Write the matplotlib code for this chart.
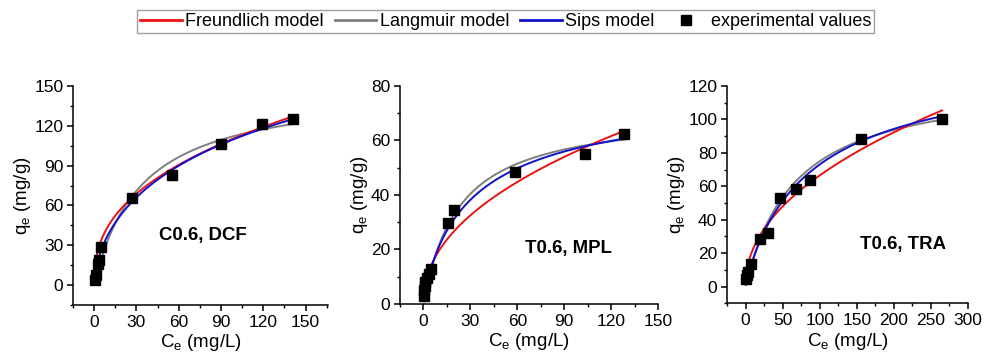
import numpy as np
import matplotlib
matplotlib.use("Agg")
import matplotlib.pyplot as plt
from matplotlib.lines import Line2D
from matplotlib.ticker import MultipleLocator

plt.rcParams['font.family'] = ['Liberation Sans', 'DejaVu Sans']
plt.rcParams['mathtext.fontset'] = 'custom'
plt.rcParams['mathtext.rm'] = 'Liberation Sans'
plt.rcParams['mathtext.it'] = 'Liberation Sans:italic'

# ---- experimental data ----
dcf_ce = [0.5, 1.5, 2.5, 3.5, 4.5, 27.2, 55.4, 90.0, 119.0, 141.0]
dcf_qe = [4.0, 7.5, 16.0, 19.0, 29.0, 65.4, 82.6, 106.6, 121.0, 124.8]

mpl_ce = [0.3, 0.5, 0.8, 1.2, 2.0, 3.5, 5.0, 16.0, 19.8, 58.6, 103.6, 128.5]
mpl_qe = [3.0, 5.0, 6.5, 8.0, 9.5, 11.0, 13.0, 29.8, 34.5, 48.3, 55.0, 62.5]

tra_ce = [0.5, 2.0, 3.0, 7.0, 20.0, 30.0, 46.5, 67.5, 87.5, 156.0, 265.0]
tra_qe = [4.5, 7.0, 9.0, 13.5, 28.3, 32.0, 53.0, 58.3, 63.8, 88.0, 100.3]

# ---- model parameters (Freundlich K, 1/n ; Langmuir qm, K ; Sips qm, K, ns) ----
dcf_freundlich = (17.9, 0.396)
dcf_langmuir = (150.0, 0.030)
dcf_sips = (300.0, 0.00405, 0.60)

mpl_freundlich = (6.78, 0.461)
mpl_langmuir = (71.0, 0.044)
mpl_sips = (80.0, 0.030, 0.85)

tra_freundlich = (7.57, 0.472)
tra_langmuir = (125.0, 0.015)
tra_sips = (140.0, 0.011, 0.92)

labels = ["C0.6, DCF", "T0.6, MPL", "T0.6, TRA"]


def freundlich(c, p):
    return p[0] * c ** p[1]


def langmuir(c, p):
    return p[0] * p[1] * c / (1 + p[1] * c)


def sips(c, p):
    x = (p[1] * c) ** p[2]
    return p[0] * x / (1 + x)


RED = '#ee1111'
GRAY = '#7f7f7f'
BLUE = '#1111cc'

fig = plt.figure(figsize=(9.95, 3.6), dpi=100)

panels = [
    dict(ce=dcf_ce, qe=dcf_qe, f=dcf_freundlich, l=dcf_langmuir, s=dcf_sips,
         pos=[0.0734, 0.1528, 0.2563, 0.6083], xlim=(-15, 166), ylim=(-15, 150),
         xmaj=30, ymaj=30, label=labels[0], lxy=(77, 37)),
    dict(ce=mpl_ce, qe=mpl_qe, f=mpl_freundlich, l=mpl_langmuir, s=mpl_sips,
         pos=[0.4020, 0.1556, 0.2593, 0.6055], xlim=(-15, 150), ylim=(0, 80),
         xmaj=30, ymaj=20, label=labels[1], lxy=(93, 20.5)),
    dict(ce=tra_ce, qe=tra_qe, f=tra_freundlich, l=tra_langmuir, s=tra_sips,
         pos=[0.7307, 0.1575, 0.2422, 0.6036], xlim=(-25, 300), ylim=(-10, 120),
         xmaj=50, ymaj=20, label=labels[2], lxy=(212, 25)),
]

for p in panels:
    ax = fig.add_axes(p['pos'])
    ce = np.array(p['ce'])
    c = np.linspace(ce.min(), ce.max(), 300)
    ax.plot(c, freundlich(c, p['f']), color=RED, lw=1.4, zorder=3)
    ax.plot(c, langmuir(c, p['l']), color=GRAY, lw=1.4, zorder=2)
    ax.plot(c, sips(c, p['s']), color=BLUE, lw=1.4, zorder=4)
    ax.plot(p['ce'], p['qe'], 's', color='black', ms=7.5, zorder=5)
    ax.set_xlim(*p['xlim'])
    ax.set_ylim(*p['ylim'])
    ax.xaxis.set_major_locator(MultipleLocator(p['xmaj']))
    ax.xaxis.set_minor_locator(MultipleLocator(p['xmaj'] / 2))
    ax.yaxis.set_major_locator(MultipleLocator(p['ymaj']))
    ax.yaxis.set_minor_locator(MultipleLocator(p['ymaj'] / 2))
    for s in ('top', 'right'):
        ax.spines[s].set_visible(False)
    for s in ('left', 'bottom'):
        ax.spines[s].set_linewidth(1.1)
    ax.tick_params(which='major', direction='out', length=4, width=1.1,
                   labelsize=12.5, colors='black', pad=3)
    ax.tick_params(which='minor', direction='out', length=2.5, width=1.0)
    ax.set_xlabel(r'C$_\mathrm{e}$ (mg/L)', fontsize=13.5, labelpad=2)
    ax.set_ylabel(r'q$_\mathrm{e}$ (mg/g)', fontsize=13.5, labelpad=1)
    ax.text(p['lxy'][0], p['lxy'][1], p['label'], fontsize=13.4,
            fontweight='bold', ha='center', va='center')

handles = [
    Line2D([], [], color=RED, lw=2),
    Line2D([], [], color=GRAY, lw=2),
    Line2D([], [], color=BLUE, lw=2),
    Line2D([], [], color='black', marker='s', ls='none', ms=7.5),
]
names = ["Freundlich model", "Langmuir model", "Sips model", "experimental values"]
leg = fig.legend(handles, names, ncol=4, loc='center', bbox_to_anchor=(0.508, 0.94),
                 fontsize=13, frameon=True, fancybox=False, edgecolor='#888888',
                 handlelength=2.3, handletextpad=0.2, columnspacing=0.6,
                 borderpad=0.15, borderaxespad=0)
leg.get_frame().set_linewidth(1.0)

fig.savefig('out.png', dpi=100)
